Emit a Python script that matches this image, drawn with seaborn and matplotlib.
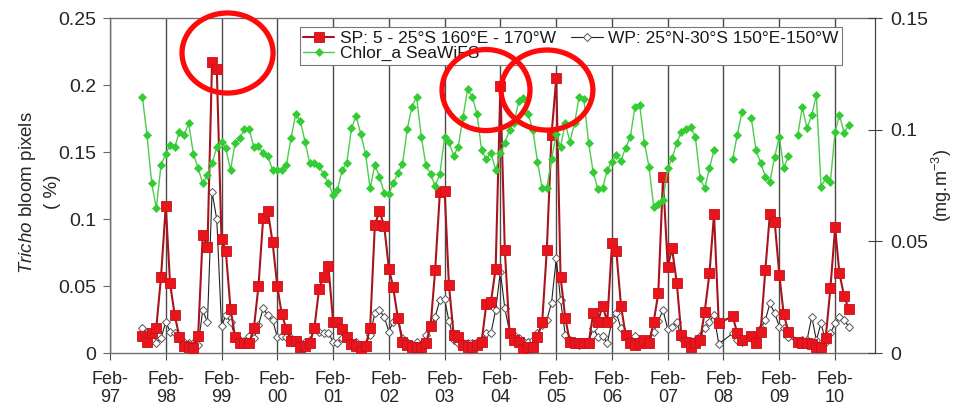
import numpy as np
import pandas as pd
import matplotlib
matplotlib.use("Agg")
import matplotlib.pyplot as plt
import seaborn as sns
from matplotlib.patches import Ellipse
from matplotlib.ticker import FuncFormatter

# monthly values, Sep-1997 .. May-2010 (one row per calendar year)
sp_vals = [
    0.013, 0.0085, 0.015, 0.019,
    0.057, 0.110, 0.052, 0.028, 0.012, 0.0055, 0.0047, 0.0037, 0.013, 0.088, 0.079, 0.217,
    0.212, 0.085, 0.076, 0.033, 0.012, 0.0075, 0.0075, 0.0075, 0.0186, 0.050, 0.101, 0.106,
    0.083, 0.050, 0.029, 0.018, 0.009, 0.009, 0.0047, 0.005, 0.0075, 0.0186, 0.048, 0.057,
    0.065, 0.023, 0.023, 0.018, 0.012, 0.0067, 0.005, 0.0017, 0.005, 0.0186, 0.0955, 0.106,
    0.095, 0.063, 0.049, 0.026, 0.0084, 0.006, 0.0047, 0.0047, 0.0047, 0.0072, 0.020, 0.062,
    0.120, 0.121, 0.051, 0.0134, 0.012, 0.006, 0.0047, 0.0047, 0.006, 0.0084, 0.0365, 0.038,
    0.063, 0.199, 0.077, 0.015, 0.0097, 0.0084, 0.0028, 0.0042, 0.0047, 0.0117, 0.0234, 0.0768,
    0.163, 0.205, 0.057, 0.026, 0.0084, 0.0072, 0.0072, 0.0075, 0.0075, 0.0296, 0.0234, 0.0353,
    0.0234, 0.0818, 0.0763, 0.0351, 0.0134, 0.0072, 0.006, 0.0072, 0.0097, 0.0072, 0.0234, 0.0445,
    0.131, 0.0644, 0.0781, 0.0525, 0.0134, 0.0084, 0.0047, 0.0072, 0.0097, 0.0308, 0.0594, 0.1037,
    0.0221, np.nan, np.nan, 0.0276, 0.0147, 0.0097, np.nan, 0.0127, 0.0072, 0.016, 0.062, 0.104,
    0.098, 0.058, 0.029, 0.016, np.nan, 0.0084, 0.0075, 0.0075, 0.0067, 0.0047, 0.0047, 0.0112,
    0.0483, 0.0938, 0.0594, 0.0425, 0.0326,
]

wp_vals = [
    0.0184, 0.016, 0.0097, 0.0077,
    0.011, 0.0234, 0.016, 0.0147, 0.011, 0.0084, 0.0072, 0.0077, 0.006, 0.032, 0.0229, 0.120,
    0.0997, 0.020, 0.028, 0.0234, 0.012, 0.010, 0.009, 0.0127, 0.011, 0.021, 0.0333, 0.028,
    0.0246, 0.012, 0.013, 0.012, 0.011, 0.0084, 0.0072, 0.0084, 0.0097, 0.0184, 0.016, 0.0147,
    0.015, 0.0084, 0.0072, 0.011, 0.0127, 0.0072, 0.0084, 0.0047, 0.0067, 0.0134, 0.0296, 0.032,
    0.0271, 0.016, 0.0234, 0.0259, 0.011, 0.0084, 0.006, 0.0084, 0.0067, 0.0134, 0.0196, 0.0271,
    0.0395, 0.040, 0.024, 0.0097, 0.0072, 0.0072, 0.0072, 0.0077, 0.0084, 0.0097, 0.015, 0.0147,
    0.032, 0.0607, 0.0333, 0.016, 0.0134, 0.011, 0.009, 0.0084, 0.0097, 0.0147, 0.021, 0.0246,
    0.0375, 0.0706, 0.0395, 0.0134, 0.0097, 0.0084, 0.006, 0.0072, 0.0084, 0.0186, 0.012, 0.013,
    0.0072, 0.0246, 0.0296, 0.0186, 0.0134, 0.0097, 0.0127, 0.0084, 0.0097, 0.0084, 0.016, 0.024,
    0.032, 0.0177, 0.0196, 0.0234, 0.011, 0.0097, 0.0084, 0.0097, 0.0127, 0.0184, 0.0234, 0.0283,
    0.0067, np.nan, np.nan, 0.0147, 0.0097, 0.0084, np.nan, 0.011, 0.0084, 0.0184, 0.0246, 0.037,
    0.0296, 0.0196, 0.0184, 0.0117, np.nan, 0.0084, 0.0097, 0.0097, 0.027, 0.0097, 0.0221, 0.0084,
    0.0147, 0.0221, 0.027, 0.0246, 0.0196,
]

chl_vals = [
    0.1145, 0.0976, 0.076, 0.0648,
    0.0842, 0.0891, 0.0931, 0.0921, 0.0991, 0.0976, 0.1029, 0.0891, 0.0827, 0.076, 0.0797, 0.0849,
    0.0921, 0.0946, 0.0917, 0.082, 0.0939, 0.0961, 0.1002, 0.1002, 0.0921, 0.0925, 0.0894, 0.0882,
    0.082, 0.082, 0.082, 0.0842, 0.0961, 0.107, 0.104, 0.0946, 0.0849, 0.0849, 0.0837, 0.080,
    0.076, 0.0707, 0.073, 0.082, 0.0849, 0.1006, 0.106, 0.098, 0.0891, 0.0737, 0.0842, 0.079,
    0.0718, 0.0712, 0.076, 0.0805, 0.0846, 0.1002, 0.110, 0.1148, 0.0969, 0.0842, 0.0802, 0.0748,
    0.0802, 0.0969, 0.0946, 0.0882, 0.0924, 0.1055, 0.118, 0.1148, 0.107, 0.0909, 0.0867, 0.0897,
    0.082, 0.0894, 0.0939, 0.100, 0.103, 0.113, 0.114, 0.107, 0.0997, 0.0857, 0.0737, 0.0737,
    0.087, 0.098, 0.0924, 0.1029, 0.0946, 0.1029, 0.1148, 0.1136, 0.0939, 0.0809, 0.0733, 0.0737,
    0.082, 0.0857, 0.0887, 0.086, 0.092, 0.0966, 0.1103, 0.111, 0.0942, 0.0834, 0.0655, 0.0667,
    0.0685, 0.0827, 0.0872, 0.0939, 0.0991, 0.1002, 0.1013, 0.0966, 0.0782, 0.0737, 0.0827, 0.0909,
    np.nan, np.nan, np.nan, 0.0867, 0.0976, 0.1078, np.nan, 0.1051, 0.0909, 0.0852, 0.079, 0.0767,
    0.0879, 0.0969, 0.0827, 0.0882, np.nan, 0.0976, 0.110, 0.1006, 0.1066, 0.1155, 0.0745, 0.0782,
    0.0767, 0.0991, 0.1066, 0.0986, 0.1021,
]

first_month = "1997-09-01"
tick_years = list(range(1997, 2011))
tick_labels = [f"Feb-\n{y % 100:02d}" for y in tick_years]

sp_label = "SP: 5 - 25°S 160°E - 170°W"
wp_label = "WP: 25°N-30°S 150°E-150°W"
chl_label = "Chlor_a SeaWiFS"

# red circles drawn on the figure (axes fractions: cx, cy, w, h)
circles = [(0.1536, 0.8955, 0.119, 0.239),
           (0.4915, 0.785, 0.115, 0.242),
           (0.5712, 0.785, 0.120, 0.239)]

dates = pd.date_range(first_month, periods=len(sp_vals), freq="MS")
df = pd.DataFrame({"date": dates, "sp": sp_vals, "wp": wp_vals, "chl": chl_vals})
df["seg"] = df["chl"].isna().cumsum()

sns.set_style("ticks")
plt.rcParams["font.family"] = ["Liberation Sans", "DejaVu Sans"]
plt.rcParams["mathtext.fontset"] = "custom"
plt.rcParams["mathtext.rm"] = "Liberation Sans"
plt.rcParams["mathtext.it"] = "Liberation Sans:italic"
plt.rcParams["text.color"] = "#1a1a1a"

fig = plt.figure(figsize=(9.61, 4.19), dpi=100)
ax = fig.add_axes([0.1145, 0.1575, 0.796, 0.7995])
ax2 = ax.twinx()

sp_df = df.dropna(subset=["sp"])
wp_df = df.dropna(subset=["wp"])
chl_df = df.dropna(subset=["chl"])

sns.lineplot(data=wp_df, x="date", y="wp", ax=ax, color="#222222", linewidth=0.8,
             marker="D", markersize=3.6, markerfacecolor="white",
             markeredgecolor="#555555", markeredgewidth=0.7, zorder=3)
sns.lineplot(data=sp_df, x="date", y="sp", ax=ax, color="#a8141c", linewidth=1.5,
             marker="s", markersize=6.5, markerfacecolor="#e8161c",
             markeredgecolor="#c8101a", markeredgewidth=0.6, zorder=4)
sns.lineplot(data=chl_df, x="date", y="chl", ax=ax2, units="seg", estimator=None,
             color="#4ccc4c", linewidth=1.0, marker="D", markersize=3.6,
             markerfacecolor="#33cc33", markeredgecolor="#33cc33", markeredgewidth=0.5)

h_wp, h_sp = ax.lines[0], ax.lines[1]
h_chl = ax2.lines[0]

x0 = pd.Timestamp("1997-02-01")
x1 = pd.Timestamp("2010-10-20")
ax.set_xlim(x0, x1)
ax.set_ylim(0, 0.25)
ax2.set_ylim(0, 0.15)

ax.set_xticks([pd.Timestamp(f"{y}-02-01") for y in tick_years])
ax.set_xticklabels(tick_labels, fontsize=13, linespacing=1.05)
ax.set_yticks(np.arange(0, 0.2501, 0.05))
ax2.set_yticks(np.arange(0, 0.1501, 0.05))
fmt = FuncFormatter(lambda v, p: f"{v:g}")
ax.yaxis.set_major_formatter(fmt)
ax2.yaxis.set_major_formatter(fmt)

ax.grid(axis="x", color="#4a4a4a", linewidth=1.0)
ax.set_axisbelow(True)

ax.tick_params(axis="y", labelsize=14, direction="out", length=5, color="#666666", pad=5)
ax.tick_params(axis="x", direction="out", length=5, color="#4a4a4a", pad=8)
ax2.tick_params(axis="y", labelsize=14, direction="inout", length=10, color="#444444", pad=6)

for side in ["left", "bottom", "top"]:
    ax.spines[side].set_color("#707070")
    ax.spines[side].set_linewidth(1.0)
ax2.spines["right"].set_color("#444444")
for side in ["left", "bottom", "top"]:
    ax2.spines[side].set_visible(False)

ax.set_xlabel("")
ax.set_ylabel("$\\it{Tricho}$ bloom pixels\n( %)", fontsize=13.5, linespacing=1.45)
ax.yaxis.set_label_coords(-0.064, 0.48)
ax2.set_ylabel("(mg.m$^{-3}$)", fontsize=13)
ax2.yaxis.set_label_coords(1.072, 0.5)

leg = ax2.legend([h_sp, h_chl, h_wp], [sp_label, chl_label, wp_label], ncol=2,
                 loc="upper left", bbox_to_anchor=(0.248, 0.972), fontsize=12.5,
                 handlelength=1.8, handletextpad=0.3, columnspacing=0.9,
                 borderpad=0.2, labelspacing=0.0, borderaxespad=0, numpoints=1,
                 frameon=True, fancybox=False, framealpha=1, edgecolor="#777777")
leg.get_frame().set_linewidth(0.8)

for cx, cy, w, h in circles:
    ax2.add_patch(Ellipse((cx, cy), w, h, transform=ax2.transAxes, fill=False,
                          edgecolor="#ff0a0a", linewidth=3.8, zorder=10, clip_on=False))

fig.savefig("out.png", dpi=100)
